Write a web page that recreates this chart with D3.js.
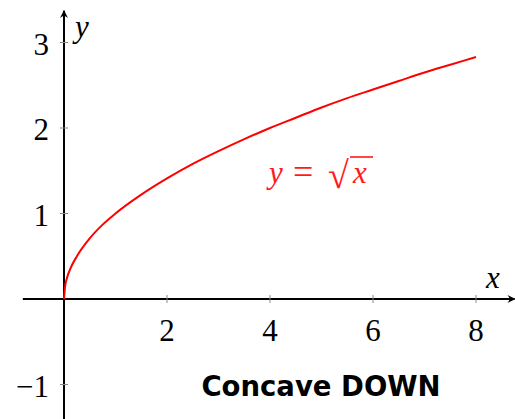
<!DOCTYPE html>
<html>
<head>
<meta charset="utf-8">
<script src="https://cdn.jsdelivr.net/npm/d3@7"></script>
<style>
  html, body { margin: 0; padding: 0; background: #fff; }
  svg { display: block; }
</style>
</head>
<body>
<div id="chart"></div>
<script>
// points of the red curve y = sqrt(x)
const curveX = [0, 0.02, 0.06, 0.12, 0.25, 0.5, 0.75, 1, 1.5, 2, 2.5, 3, 3.5, 4, 4.5, 5, 5.5, 6, 6.5, 7, 7.5, 8];
const curveY = [0, 0.14, 0.25, 0.35, 0.5, 0.71, 0.87, 1, 1.22, 1.41, 1.58, 1.73, 1.87, 2, 2.12, 2.24, 2.35, 2.45, 2.55, 2.65, 2.74, 2.83];

// tick labels
const xTicks = [2, 4, 6, 8];
const yTicks = [-1, 1, 2, 3];

const width = 515, height = 419;
const serif = '"Liberation Serif", "DejaVu Serif", serif';
const red = '#ff1a1a';

const svg = d3.select('#chart').append('svg')
  .attr('width', width)
  .attr('height', height);

// scales: origin sits at (64, 299)
const x = d3.scaleLinear().domain([0, 8]).range([64, 476]);
const y = d3.scaleLinear().domain([0, 3]).range([299, 42.5]);

// arrow head
svg.append('defs').append('marker')
  .attr('id', 'arrow')
  .attr('viewBox', '0 0 10 10')
  .attr('refX', 9).attr('refY', 5)
  .attr('markerWidth', 8).attr('markerHeight', 8)
  .attr('markerUnits', 'userSpaceOnUse')
  .attr('orient', 'auto')
  .append('path')
  .attr('d', 'M0,0 Q5,5 0,10 L10,5 Z')
  .attr('fill', '#000');

// axes
svg.append('line')
  .attr('x1', x(-0.8)).attr('y1', y(0))
  .attr('x2', x(8.75)).attr('y2', y(0))
  .attr('stroke', '#000').attr('stroke-width', 2)
  .attr('marker-end', 'url(#arrow)');
svg.append('line')
  .attr('x1', x(0)).attr('y1', y(-1.41))
  .attr('x2', x(0)).attr('y2', y(3.37))
  .attr('stroke', '#000').attr('stroke-width', 2)
  .attr('marker-end', 'url(#arrow)');

// tick marks
svg.selectAll('.xtick').data(xTicks).join('line')
  .attr('x1', d => x(d)).attr('x2', d => x(d))
  .attr('y1', y(0) - 4).attr('y2', y(0) + 4)
  .attr('stroke', '#888').attr('stroke-width', 1);
svg.selectAll('.ytick').data(yTicks).join('line')
  .attr('x1', x(0) - 4).attr('x2', x(0) + 4)
  .attr('y1', d => y(d)).attr('y2', d => y(d))
  .attr('stroke', '#888').attr('stroke-width', 1);

// tick labels
svg.selectAll('.xlab').data(xTicks).join('text')
  .attr('x', d => x(d)).attr('y', y(0) + 42)
  .attr('text-anchor', 'middle')
  .attr('font-family', serif).attr('font-size', 31)
  .text(d => d);
svg.selectAll('.ylab').data(yTicks).join('text')
  .attr('x', x(0) - 15).attr('y', d => y(d) + 12)
  .attr('text-anchor', 'end')
  .attr('font-family', serif).attr('font-size', 31)
  .text(d => d < 0 ? '\u2212' + Math.abs(d) : d);

// axis names
svg.append('text')
  .attr('x', 486).attr('y', 288)
  .attr('font-family', serif).attr('font-style', 'italic').attr('font-size', 31)
  .text('x');
svg.append('text')
  .attr('x', 75).attr('y', 37)
  .attr('font-family', serif).attr('font-style', 'italic').attr('font-size', 31)
  .text('y');

// the curve
const pts = curveX.map((v, i) => [v, curveY[i]]);
svg.append('path')
  .datum(pts)
  .attr('fill', 'none')
  .attr('stroke', '#ff0000')
  .attr('stroke-width', 2)
  .attr('d', d3.line().x(d => x(d[0])).y(d => y(d[1])).curve(d3.curveMonotoneX));

// formula label
const f = svg.append('g').attr('fill', red).attr('font-family', serif);
f.append('text').attr('x', 269).attr('y', 183)
  .attr('font-style', 'italic').attr('font-size', 31).text('y');
f.append('text').attr('x', 293).attr('y', 184)
  .attr('font-size', 36).text('=');
f.append('text').attr('x', 328).attr('y', 188)
  .attr('font-size', 38).text('\u221A');
f.append('text').attr('x', 353).attr('y', 183)
  .attr('font-style', 'italic').attr('font-size', 31).text('x');
// overline of the radical
svg.append('line')
  .attr('x1', 350).attr('x2', 373)
  .attr('y1', 157).attr('y2', 157)
  .attr('stroke', red).attr('stroke-width', 1.6);

// caption
svg.append('text')
  .attr('x', 321).attr('y', 396)
  .attr('text-anchor', 'middle')
  .attr('font-family', '"DejaVu Sans", sans-serif')
  .attr('font-weight', 'bold')
  .attr('font-size', 27.5)
  .text('Concave DOWN');
</script>
</body>
</html>
